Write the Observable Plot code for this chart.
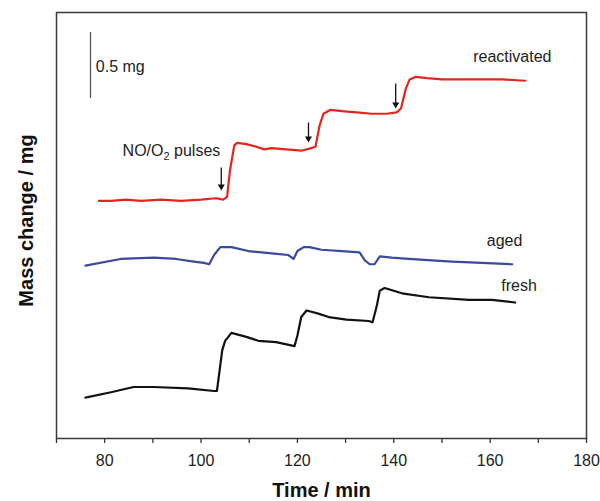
<!DOCTYPE html>
<html>
<head>
<meta charset="utf-8">
<script src="https://cdn.jsdelivr.net/npm/d3@7"></script>
<script src="https://cdn.jsdelivr.net/npm/@observablehq/plot@0.6"></script>
<style>
  body { margin: 0; background: #fff; }
  #chart svg { display: block; }
</style>
</head>
<body>
<div id="chart"></div>
<script>
// Thermogravimetric traces: mass change during NO/O2 pulses (offset traces, mg)
const reactivatedTime = [78.8, 81.3, 84.4, 87.5, 91.7, 95.8, 100.0, 103.1, 104.6, 105.4, 106.0, 106.9, 107.5, 109.4, 111.5, 113.1, 114.6, 117.7, 120.8, 122.9, 123.75, 124.6, 125.4, 126.9, 129.2, 132.3, 135.4, 138.5, 140.6, 141.5, 142.5, 143.3, 144.6, 146.9, 150.0, 154.2, 158.3, 162.5, 167.3];
const reactivatedMass = [1.80, 1.80, 1.81, 1.80, 1.81, 1.80, 1.81, 1.82, 1.81, 1.83, 2.03, 2.22, 2.24, 2.23, 2.21, 2.19, 2.20, 2.19, 2.18, 2.20, 2.21, 2.37, 2.46, 2.49, 2.48, 2.47, 2.46, 2.46, 2.47, 2.50, 2.65, 2.72, 2.74, 2.73, 2.72, 2.72, 2.72, 2.72, 2.71];

const agedTime = [76.0, 83.3, 90.2, 94.8, 98.5, 100.6, 101.7, 102.7, 104.0, 106.3, 109.8, 115.2, 118.1, 119.2, 120.0, 121.3, 122.5, 125.0, 129.2, 132.9, 134.0, 135.0, 136.0, 137.1, 139.6, 143.1, 147.9, 152.1, 158.3, 164.6];
const agedMass = [1.31, 1.36, 1.37, 1.36, 1.34, 1.33, 1.32, 1.39, 1.45, 1.45, 1.42, 1.40, 1.39, 1.36, 1.42, 1.45, 1.45, 1.43, 1.42, 1.41, 1.35, 1.32, 1.32, 1.38, 1.37, 1.36, 1.35, 1.34, 1.33, 1.32];

const freshTime = [76.0, 81.3, 86.0, 90.2, 97.3, 102.7, 103.3, 104.4, 105.0, 106.3, 109.4, 111.9, 115.6, 119.4, 120.0, 120.8, 121.9, 124.0, 126.5, 130.2, 134.8, 135.6, 136.5, 137.1, 138.1, 141.7, 147.3, 155.6, 160.4, 165.2];
const freshMass = [0.31, 0.35, 0.39, 0.39, 0.38, 0.36, 0.36, 0.67, 0.74, 0.80, 0.77, 0.74, 0.73, 0.70, 0.78, 0.92, 0.97, 0.95, 0.92, 0.90, 0.89, 0.88, 1.01, 1.12, 1.14, 1.10, 1.07, 1.05, 1.05, 1.03];

// Pulse arrows on the reactivated trace
const pulseTime = [104.2, 122.3, 140.4];
const pulseArrowTop = [2.053, 2.394, 2.689];
const pulseArrowTip = [1.894, 2.258, 2.515];

// Series labels
const seriesNames = ["reactivated", "aged", "fresh"];
const seriesLabelTime = [164.6, 163.0, 166.0];
const seriesLabelMass = [2.894, 1.50, 1.159];
const seriesColors = ["#e3261d", "#3a4a9c", "#111111"];

// Scale bar (0.5 mg)
const scaleBarTime = [77.06];
const scaleBarBase = [2.576];
const scaleBarLength = 0.5;
const scaleBarLabel = "0.5 mg";

// Pulse annotation
const pulseLabel = "NO/O2 pulses";
const pulseLabelTime = 104.0;
const pulseLabelMass = 2.182;

// Axes
const xTicks = d3.range(70, 181, 10);
const xDomain = [70, 180];
const yDomain = [0, 3.227];
const xTitle = "Time / min";
const yTitle = "Mass change / mg";

const toRows = (t, m, name) => t.map((d, i) => ({time: d, mass: m[i], name}));
const rows = [
  ...toRows(reactivatedTime, reactivatedMass, "reactivated"),
  ...toRows(agedTime, agedMass, "aged"),
  ...toRows(freshTime, freshMass, "fresh")
];
const arrows = pulseTime.map((t, i) => ({time: t, top: pulseArrowTop[i], tip: pulseArrowTip[i]}));
const labels = seriesNames.map((n, i) => ({name: n, time: seriesLabelTime[i], mass: seriesLabelMass[i]}));

const font = "'Liberation Sans', Arial, Helvetica, sans-serif";

const chart = Plot.plot({
  width: 600,
  height: 501,
  marginLeft: 56,
  marginRight: 14,
  marginTop: 12,
  marginBottom: 63,
  style: {fontFamily: font, fontSize: "16px", color: "#222", background: "#fff"},
  x: {domain: xDomain},
  y: {domain: yDomain, axis: null},
  color: {domain: seriesNames, range: seriesColors},
  marks: [
    Plot.axisX({
      ticks: xTicks,
      tickSize: 5,
      tickPadding: 11,
      tickFormat: d => d % 20 === 0 ? String(d) : "",
      fontSize: 16,
      stroke: "#333",
      strokeWidth: 1.3,
      label: null
    }),
    Plot.frame({stroke: "#3a3a3a", strokeWidth: 1.5}),
    Plot.line(rows, {x: "time", y: "mass", z: "name", stroke: "name", strokeWidth: 2.2, strokeLinejoin: "round"}),
    Plot.ruleX(scaleBarTime, {y1: scaleBarBase, y2: scaleBarBase.map(b => b + scaleBarLength), stroke: "#555", strokeWidth: 1.3}),
    Plot.text([scaleBarLabel], {x: scaleBarTime.map(t => t + 1.1), y: scaleBarBase.map(b => b + 0.242), textAnchor: "start", fontSize: 16, fill: "#222"}),
    Plot.link(arrows, {x1: "time", x2: "time", y1: "top", y2: "tip", stroke: "#111", strokeWidth: 1.3}),
    Plot.dot(arrows, {x: "time", y: "tip", symbol: "triangle", rotate: 180, r: 2.6, fill: "#111", stroke: null, dy: -2}),
    Plot.text([pulseLabel], {x: [pulseLabelTime], y: [pulseLabelMass], textAnchor: "end", fontSize: 16, fill: "#222"}),
    Plot.text(labels, {x: "time", y: "mass", text: "name", fontSize: 16, fill: "#222"}),
    Plot.text([xTitle], {frameAnchor: "bottom", lineAnchor: "bottom", textAnchor: "middle", dy: 58, fontSize: 20, fontWeight: "bold", fill: "#111"}),
    Plot.text([yTitle], {frameAnchor: "left", lineAnchor: "bottom", textAnchor: "middle", rotate: -90, dx: -24, dy: -5, fontSize: 20, fontWeight: "bold", fill: "#111"})
  ]
});

// Subscript the "2" in NO/O2
d3.select(chart).selectAll("text").each(function () {
  if (this.textContent === pulseLabel) {
    const el = d3.select(this);
    el.text("");
    el.append("tspan").text("NO/O");
    el.append("tspan").attr("font-size", "11px").attr("dy", "4").text("2");
    el.append("tspan").attr("dy", "-4").text(" pulses");
  }
});

document.getElementById("chart").appendChild(chart);
</script>
</body>
</html>
